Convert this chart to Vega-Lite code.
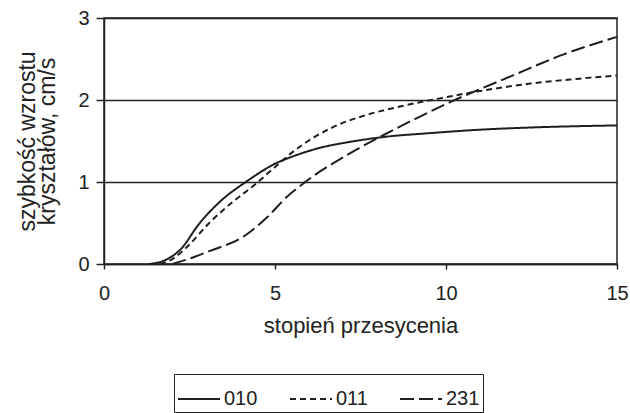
{
  "$schema": "https://vega.github.io/schema/vega-lite/v6.json",
  "autosize": {"type": "none"},
  "width": 513,
  "height": 246,
  "padding": {"left": 104, "top": 18, "right": 13, "bottom": 149},
  "background": "white",
  "config": {
    "font": "Liberation Sans",
    "view": {"stroke": "#222", "strokeWidth": 1.5}
  },
  "data": {"values": [
    {"x": 1.3, "y": 0, "s": "010"},
    {"x": 1.8, "y": 0.05, "s": "010"},
    {"x": 2.22, "y": 0.17, "s": "010"},
    {"x": 2.8, "y": 0.5, "s": "010"},
    {"x": 3.39, "y": 0.76, "s": "010"},
    {"x": 4.18, "y": 1.01, "s": "010"},
    {"x": 4.94, "y": 1.21, "s": "010"},
    {"x": 5.64, "y": 1.33, "s": "010"},
    {"x": 6.3, "y": 1.415, "s": "010"},
    {"x": 7.2, "y": 1.49, "s": "010"},
    {"x": 8.2, "y": 1.55, "s": "010"},
    {"x": 9.5, "y": 1.595, "s": "010"},
    {"x": 11.0, "y": 1.638, "s": "010"},
    {"x": 12.5, "y": 1.665, "s": "010"},
    {"x": 15, "y": 1.69, "s": "010"},
    {"x": 1.64, "y": 0, "s": "011"},
    {"x": 2.0, "y": 0.06, "s": "011"},
    {"x": 2.43, "y": 0.21, "s": "011"},
    {"x": 3.1, "y": 0.51, "s": "011"},
    {"x": 3.77, "y": 0.76, "s": "011"},
    {"x": 4.36, "y": 0.95, "s": "011"},
    {"x": 4.94, "y": 1.16, "s": "011"},
    {"x": 5.53, "y": 1.37, "s": "011"},
    {"x": 6.7, "y": 1.67, "s": "011"},
    {"x": 7.69, "y": 1.82, "s": "011"},
    {"x": 8.65, "y": 1.92, "s": "011"},
    {"x": 9.82, "y": 2.02, "s": "011"},
    {"x": 11.0, "y": 2.11, "s": "011"},
    {"x": 12.46, "y": 2.2, "s": "011"},
    {"x": 13.9, "y": 2.26, "s": "011"},
    {"x": 15, "y": 2.3, "s": "011"},
    {"x": 2.0, "y": 0.0, "s": "231"},
    {"x": 2.6, "y": 0.08, "s": "231"},
    {"x": 3.1, "y": 0.16, "s": "231"},
    {"x": 4.06, "y": 0.33, "s": "231"},
    {"x": 4.77, "y": 0.57, "s": "231"},
    {"x": 5.35, "y": 0.82, "s": "231"},
    {"x": 5.82, "y": 0.98, "s": "231"},
    {"x": 7.19, "y": 1.35, "s": "231"},
    {"x": 8.16, "y": 1.57, "s": "231"},
    {"x": 9.15, "y": 1.78, "s": "231"},
    {"x": 10.1, "y": 1.97, "s": "231"},
    {"x": 11.96, "y": 2.3, "s": "231"},
    {"x": 13.4, "y": 2.55, "s": "231"},
    {"x": 15, "y": 2.77, "s": "231"}
  ]},
  "mark": {"type": "line", "interpolate": "monotone", "color": "#1e1e1e", "strokeWidth": 2},
  "encoding": {
    "x": {
      "field": "x", "type": "quantitative",
      "scale": {"domain": [0, 15], "nice": false},
      "axis": {
        "values": [0, 5, 10, 15], "grid": false,
        "title": "stopień przesycenia",
        "titleFontSize": 22, "titleFontWeight": "normal",
        "titleColor": "#222", "titlePadding": 12,
        "labelFontSize": 20, "labelColor": "#222", "labelPadding": 14,
        "domainColor": "#222", "domainWidth": 1.5,
        "tickColor": "#222", "tickSize": 5, "tickWidth": 1.5,
        "labelFlush": false
      }
    },
    "y": {
      "field": "y", "type": "quantitative",
      "scale": {"domain": [0, 3], "nice": false},
      "axis": {
        "values": [0, 1, 2, 3], "grid": true, "gridColor": "#222", "gridWidth": 1.3, "gridOpacity": 1,
        "title": ["szybkość wzrostu", "kryształów, cm/s"],
        "titleFontSize": 23, "titleFontWeight": "normal", "titleColor": "#222", "titlePadding": 18,
        "titleLineHeight": 20,
        "labelFontSize": 20, "labelColor": "#222", "labelPadding": 7,
        "domainColor": "#222", "domainWidth": 1.5,
        "tickColor": "#222", "tickSize": 8, "tickWidth": 1.5
      }
    },
    "strokeDash": {
      "field": "s", "type": "nominal",
      "scale": {"domain": ["010", "011", "231"], "range": [[1, 0], [6, 4], [14, 5]]},
      "legend": {
        "title": null, "orient": "none", "direction": "horizontal",
        "legendX": 70, "legendY": 356,
        "symbolType": "stroke", "symbolSize": 1764, "symbolStrokeWidth": 2, "symbolStrokeColor": "#1e1e1e",
        "labelFontSize": 20, "labelColor": "#222", "labelOffset": 3,
        "columnPadding": 28,
        "strokeColor": "#222", "padding": 3, "fillColor": "white"
      }
    }
  }
}
